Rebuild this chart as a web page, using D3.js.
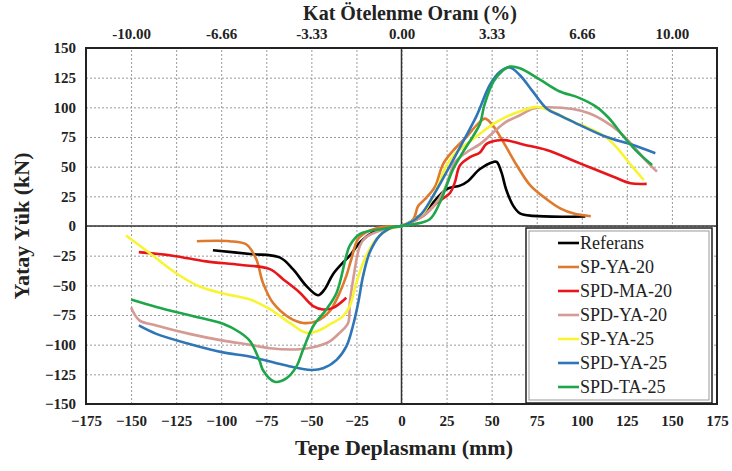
<!DOCTYPE html>
<html>
<head>
<meta charset="utf-8">
<script src="https://cdn.jsdelivr.net/npm/d3@7"></script>
<style>
  body { margin: 0; background: #fff; }
  text { font-family: "Liberation Serif", "Times New Roman", serif; }
  .tick text { font-weight: bold; font-size: 15px; fill: #222; }
  .grid line { stroke: #9a9a9a; stroke-dasharray: 2,2; }
  .grid path { display: none; }
</style>
</head>
<body>
<script>
// series names and colours
var seriesNames = ["Referans", "SP-YA-20", "SPD-MA-20", "SPD-YA-20", "SP-YA-25", "SPD-YA-25", "SPD-TA-25"];
var seriesColors = ["#000000", "#dd7a2e", "#e8161b", "#d49a94", "#f7f531", "#2f76b8", "#1ea64a"];

// [displacement mm, load kN], null splits the negative and positive branches
var referans = [[-104.6,-20.5],[-84,-23.6],[-67.6,-26.4],[-60.2,-36.3],[-52.8,-50.5],[-46.3,-58.4],[-42.6,-53.3],[-38,-40.6],[-32.4,-30.7],[-28.7,-25],[-23,-13.7],[-15.7,-5.2],[-6.5,-0.8],[0,0],
  [12,11],[25,31],[32.4,34],[37,38],[43.5,48],[51,54],[52.8,54],[55.5,45],[58,31],[62,17],[65.7,10.7],[73,8.5],[102,8]];
var spYa20 = [[-113.5,-12.8],[-95.4,-12.8],[-86,-15.6],[-80.6,-27.8],[-76.9,-47.7],[-71.3,-64.7],[-62,-77.4],[-54.6,-81.7],[-47.2,-80.2],[-39.8,-71.7],[-34.3,-56.2],[-30.6,-42],[-27.8,-27.8],[-24,-10.8],[-17.6,-3.8],[-8.3,-0.4],[0,0],
  [6.5,5.7],[9.3,17],[13,22.6],[18.5,33],[23,52],[28.7,63.6],[36,75],[41.7,85],[46.3,90.5],[50,86],[56.5,70.7],[64,51],[71.3,34.5],[80.5,22.6],[88.3,14.7],[95.6,10.5],[105,8.2]];
var spdMa20 = [[-145.7,-22],[-126.9,-25],[-108.3,-29.8],[-89.8,-32.7],[-73,-36.3],[-65.7,-44.8],[-56.5,-56],[-49,-67.5],[-43.5,-70.3],[-38,-69],[-30.6,-60.4],null,
  [0,0],[12,8.5],[20,20],[27,28],[29.6,36.8],[32.4,51],[38,58],[43.5,62],[47,69],[52,71.8],[57.4,72.4],[68,68.5],[80.5,64],[99,52.8],[117.5,41.5],[127,36],[136,35.5]];
var spdYa20 = [[-150,-68.7],[-145.4,-79.5],[-136,-83.8],[-117.6,-90.9],[-99,-96.6],[-84.3,-100],[-73,-103],[-56.5,-103.8],[-47.2,-101.5],[-39.8,-97.2],[-34.3,-90],[-29.6,-81.7],[-28.7,-64.7],[-26.8,-44.8],[-23,-16.5],[-20,-10],[-10,-3],[0,0],
  [14,11],[23,28],[26,39.6],[29.6,53.7],[36,62],[43.5,69],[51,79],[58,87.7],[65.7,93.3],[73,99],[80,100],[94.9,98.6],[104,95],[113,88],[120.6,79.7],[128,68.4],[135.3,55.6],[141.7,45.8]];
var spYa25 = [[-152.8,-8],[-139.8,-22.7],[-125,-39.8],[-112,-51],[-99,-56.8],[-84.3,-61.8],[-73,-70],[-62,-81.7],[-52.8,-90],[-47,-88.7],[-39.8,-83],[-32.4,-76],[-28.7,-67.5],[-25,-47.7],[-20.4,-27.8],[-14,-11],[-6.5,-2.3],[0,0],
  [12,11],[19.4,31],[25,51],[29.6,60.8],[36,69],[43.5,77.8],[51,86],[58,92],[67.6,97.6],[75,100.4],[82,97.6],[94.9,88],[104,82.5],[113,75.4],[120.6,64],[128,50],[134.4,38.7]];
var spdYa25 = [[-145.7,-83.8],[-136,-90.9],[-117.6,-99.4],[-99,-106.5],[-84.3,-110],[-65.7,-117],[-50,-121.3],[-43.5,-119.9],[-36,-112.8],[-30.6,-101.5],[-27,-84.5],[-24,-64.7],[-21.3,-42],[-17.6,-22.2],[-12,-8],[-4.6,-0.9],[0,0],
  [10,8.5],[17.6,25.5],[27,51],[34,70.7],[41.7,93],[49,118.8],[54.6,130],[60,133.5],[65.7,127],[73,113],[80.5,99],[88,93],[94.9,88],[113,75.4],[128,68.4],[140.8,61.3]];
var spdTa25 = [[-150,-61.9],[-136,-68.2],[-117.6,-75.3],[-99,-82.4],[-89.8,-89.5],[-84,-97],[-78.7,-113.6],[-76.9,-121.3],[-70.4,-131.2],[-63.9,-128.4],[-58.3,-118.5],[-54.6,-104.3],[-49,-84.5],[-41.7,-70.3],[-36,-56.2],[-30.6,-25],[-28.7,-16.5],[-23,-6.6],[-10,-2.3],[0,0],
  [6.5,1.4],[15.7,5.7],[21.3,19.8],[25,34],[28.7,48],[34,62],[39.8,76],[43.5,86],[46,102],[51,121.6],[56.5,131.5],[60,134.3],[65.7,133],[76.8,123.4],[87.5,113.6],[98.5,108],[107.7,100.8],[115,91],[122.4,76.8],[129.8,64],[139,51.4]];
var seriesData = [referans, spYa20, spdMa20, spdYa20, spYa25, spdYa25, spdTa25];

// ticks
var xTicks = d3.range(-175, 176, 25);
var yTicks = d3.range(-150, 151, 25);
var topTicks = [-150, -100, -50, 0, 50, 100, 150];
var topLabels = ["-10.00", "-6.66", "-3.33", "0.00", "3.33", "6.66", "10.00"];

var W = 732, H = 471;
var margin = {top: 48, right: 15, bottom: 67, left: 86};
var width = W - margin.left - margin.right,
    height = H - margin.top - margin.bottom;

var svg = d3.select("body").append("svg")
    .attr("width", W)
    .attr("height", H);

var g = svg.append("g")
    .attr("transform", "translate(" + margin.left + "," + margin.top + ")");

var x = d3.scaleLinear().domain([-175, 175]).range([0, width]);
var y = d3.scaleLinear().domain([-150, 150]).range([height, 0]);

// grid
g.append("g").attr("class", "grid")
    .attr("transform", "translate(0," + height + ")")
    .call(d3.axisBottom(x).tickValues(xTicks).tickSize(-height).tickFormat(""));
g.append("g").attr("class", "grid")
    .call(d3.axisLeft(y).tickValues(yTicks).tickSize(-width).tickFormat(""));

// zero lines
g.append("line").attr("x1", x(0)).attr("x2", x(0)).attr("y1", 0).attr("y2", height)
    .attr("stroke", "#333").attr("stroke-width", 1.5);
g.append("line").attr("x1", 0).attr("x2", width).attr("y1", y(0)).attr("y2", y(0))
    .attr("stroke", "#333").attr("stroke-width", 1.5);

// curves
var line = d3.line()
    .defined(function(d) { return d !== null; })
    .x(function(d) { return x(d[0]); })
    .y(function(d) { return y(d[1]); })
    .curve(d3.curveCatmullRom.alpha(0.5));

g.selectAll(".curve")
    .data(seriesData)
  .enter().append("path")
    .attr("class", "curve")
    .attr("fill", "none")
    .attr("stroke", function(d, i) { return seriesColors[i]; })
    .attr("stroke-width", 2.6)
    .attr("stroke-linejoin", "round")
    .attr("d", line);

// frame
g.append("rect").attr("width", width).attr("height", height)
    .attr("fill", "none").attr("stroke", "#222").attr("stroke-width", 2);

// axes labels
var xAxis = g.append("g")
    .attr("transform", "translate(0," + height + ")")
    .call(d3.axisBottom(x).tickValues(xTicks).tickSize(0).tickPadding(11));
xAxis.select(".domain").remove();

var yAxis = g.append("g")
    .call(d3.axisLeft(y).tickValues(yTicks).tickSize(0).tickPadding(10));
yAxis.select(".domain").remove();

var topAxis = g.append("g")
    .call(d3.axisTop(x).tickValues(topTicks).tickSize(0).tickPadding(9)
      .tickFormat(function(d, i) { return topLabels[i]; }));
topAxis.select(".domain").remove();

// titles
svg.append("text")
    .attr("x", 410).attr("y", 20)
    .attr("text-anchor", "middle")
    .style("font-weight", "bold").style("font-size", "20px").style("fill", "#222")
    .text("Kat Ötelenme Oranı (%)");

svg.append("text")
    .attr("x", 404).attr("y", 455)
    .attr("text-anchor", "middle")
    .style("font-weight", "bold").style("font-size", "22px").style("fill", "#222")
    .text("Tepe Deplasmanı (mm)");

svg.append("text")
    .attr("transform", "translate(29," + (margin.top + y(0)) + ") rotate(-90)")
    .attr("text-anchor", "middle")
    .style("font-weight", "bold").style("font-size", "22px").style("fill", "#222")
    .text("Yatay Yük (kN)");

// legend
var legend = svg.append("g")
    .attr("transform", "translate(526,228)");

legend.append("rect").attr("width", 186).attr("height", 175)
    .attr("fill", "#fff").attr("stroke", "#222").attr("stroke-width", 1.5);
legend.append("rect").attr("x", 3).attr("y", 3).attr("width", 180).attr("height", 169)
    .attr("fill", "none").attr("stroke", "#999").attr("stroke-width", 1);

var item = legend.selectAll(".item")
    .data(seriesNames)
  .enter().append("g")
    .attr("class", "item")
    .attr("transform", function(d, i) { return "translate(0," + (15 + i * 24) + ")"; });

item.append("line")
    .attr("x1", 32).attr("x2", 53)
    .attr("stroke", function(d, i) { return seriesColors[i]; })
    .attr("stroke-width", 2.6);

item.append("text")
    .attr("x", 54).attr("dy", "0.35em")
    .style("font-size", "18px").style("fill", "#222")
    .text(function(d) { return d; });
</script>
</body>
</html>
